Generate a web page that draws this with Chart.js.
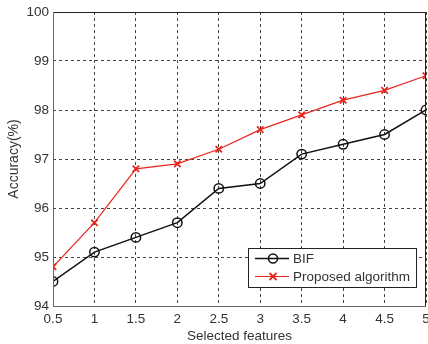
<!DOCTYPE html>
<html>
<head>
<meta charset="utf-8">
<script src="https://cdn.jsdelivr.net/npm/chart.js@4/dist/chart.umd.min.js"></script>
<style>
html,body{margin:0;padding:0;background:#fff;}
#wrap{position:relative;width:428px;height:344px;}
</style>
</head>
<body>
<div id="wrap"><canvas id="c" width="428" height="344"></canvas></div>
<script>
const features = [0.5, 1, 1.5, 2, 2.5, 3, 3.5, 4, 4.5, 5];
const bifValues = [94.5, 95.1, 95.4, 95.7, 96.4, 96.5, 97.1, 97.3, 97.5, 98.0];
const proposedValues = [94.8, 95.7, 96.8, 96.9, 97.2, 97.6, 97.9, 98.2, 98.4, 98.7];
const xTicks = [0.5, 1, 1.5, 2, 2.5, 3, 3.5, 4, 4.5, 5];
const yTicks = [94, 95, 96, 97, 98, 99, 100];
const seriesNames = ['BIF', 'Proposed algorithm'];

const FONT = '"Liberation Sans", Arial, sans-serif';
const RED = '#e8241c';
const zeroPad = () => ({left: 0, top: 0, right: 0, bottom: 0});

const boxPlugin = {
  id: 'boxAndLegend',
  afterDraw(chart) {
    const ctx = chart.ctx, a = chart.chartArea;
    ctx.save();
    ctx.strokeStyle = '#222';
    ctx.lineWidth = 1;
    ctx.beginPath();
    ctx.moveTo(a.left, a.top + 0.5);
    ctx.lineTo(a.right - 0.5, a.top + 0.5);
    ctx.lineTo(a.right - 0.5, a.bottom);
    ctx.stroke();
    // left and bottom axes (solid)
    ctx.strokeStyle = '#666';
    ctx.beginPath();
    ctx.moveTo(a.left + 0.5, a.top);
    ctx.lineTo(a.left + 0.5, a.bottom + 0.5);
    ctx.lineTo(a.right, a.bottom + 0.5);
    ctx.stroke();
    // legend
    const L = a.right - 178, T = a.bottom - 58, W = 168, H = 39;
    ctx.fillStyle = '#fff';
    ctx.fillRect(L, T, W, H);
    ctx.strokeStyle = '#222';
    ctx.strokeRect(L + 0.5, T + 0.5, W, H);
    const rows = [T + 10.5, T + 28.5];
    chart.data.datasets.forEach((ds, i) => {
      const y = rows[i];
      ctx.strokeStyle = ds.borderColor;
      ctx.lineWidth = ds.borderWidth;
      ctx.beginPath();
      ctx.moveTo(L + 7, y);
      ctx.lineTo(L + 41, y);
      ctx.stroke();
      const mx = L + 25;
      ctx.beginPath();
      if (ds.pointStyle === 'circle') {
        ctx.arc(mx, y, 4.5, 0, Math.PI * 2);
      } else {
        ctx.moveTo(mx - 3.5, y - 3.5); ctx.lineTo(mx + 3.5, y + 3.5);
        ctx.moveTo(mx + 3.5, y - 3.5); ctx.lineTo(mx - 3.5, y + 3.5);
      }
      ctx.lineWidth = ds.pointBorderWidth;
      ctx.stroke();
      ctx.fillStyle = '#333';
      ctx.font = '13.5px ' + FONT;
      ctx.textBaseline = 'middle';
      ctx.textAlign = 'left';
      ctx.fillText(ds.label, L + 45, y + 0.5);
    });
    ctx.restore();
  }
};

new Chart(document.getElementById('c'), {
  type: 'line',
  data: {
    datasets: [
      {
        label: seriesNames[0],
        data: features.map((x, i) => ({x, y: bifValues[i]})),
        borderColor: '#111',
        borderWidth: 1.5,
        pointStyle: 'circle',
        pointRadius: 4.7,
        pointBorderWidth: 1.5,
        pointBorderColor: '#111',
        pointBackgroundColor: 'rgba(0,0,0,0)',
        tension: 0
      },
      {
        label: seriesNames[1],
        data: features.map((x, i) => ({x, y: proposedValues[i]})),
        borderColor: RED,
        borderWidth: 1.2,
        pointStyle: 'crossRot',
        pointRadius: 4.5,
        pointBorderWidth: 1.8,
        pointBorderColor: RED,
        pointBackgroundColor: RED,
        tension: 0
      }
    ]
  },
  options: {
    responsive: false,
    animation: false,
    events: [],
    layout: { autoPadding: false, padding: { left: 0, top: 12, right: 2, bottom: 0 } },
    plugins: { legend: { display: false }, tooltip: { enabled: false } },
    scales: {
      x: {
        type: 'linear',
        min: 0.5, max: 5,
        afterBuildTicks(s) { s.ticks = xTicks.map(v => ({value: v})); },
        afterFit(s) { s.height = 38; s.paddingLeft = 0; s.paddingRight = 0; s.getPadding = zeroPad; },
        grid: { color: '#444', lineWidth: 1, drawTicks: false },
        border: { display: false, dash: [3, 3] },
        ticks: { color: '#333', padding: 5, maxRotation: 0, autoSkip: false, font: { family: FONT, size: 13.5 },
          callback: v => String(v) },
        title: { display: true, text: 'Selected features', color: '#333', font: { family: FONT, size: 13.5 }, padding: { top: 0, bottom: 0 } }
      },
      y: {
        type: 'linear',
        min: 94, max: 100,
        afterBuildTicks(s) { s.ticks = yTicks.map(v => ({value: v})); },
        afterFit(s) { s.width = 53; s.paddingTop = 0; s.paddingBottom = 0; s.getPadding = zeroPad; },
        grid: { color: '#444', lineWidth: 1, drawTicks: false },
        border: { display: false, dash: [3, 3] },
        ticks: { color: '#333', padding: 4, font: { family: FONT, size: 13.5 }, callback: v => String(v) },
        title: { display: true, text: 'Accuracy(%)', color: '#333', font: { family: FONT, size: 14 }, padding: { top: 6, bottom: 0 } }
      }
    }
  },
  plugins: [boxPlugin]
});
</script>
</body>
</html>
